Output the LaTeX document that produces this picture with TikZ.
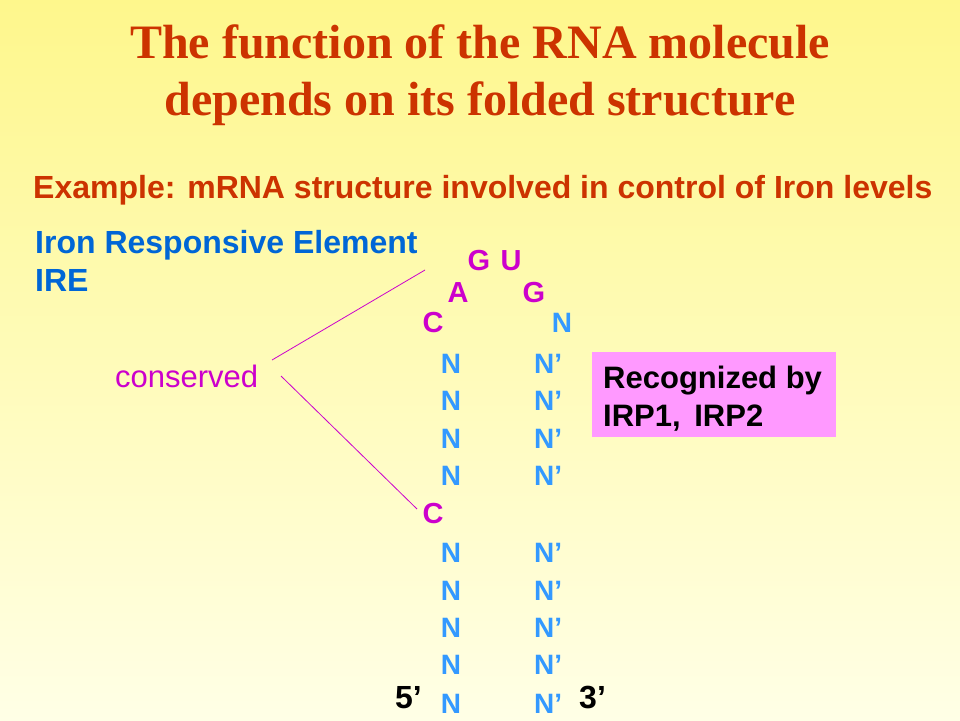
\documentclass[tikz,border=0pt]{standalone}
\usepackage{fontspec}
\setmainfont{Liberation Sans}
\newfontfamily\titlefont{Liberation Serif}
\definecolor{titlered}{RGB}{204,51,0}
\definecolor{ireblue}{RGB}{0,102,214}
\definecolor{nblue}{RGB}{51,153,255}
\definecolor{mag}{RGB}{204,0,204}
\definecolor{boxpink}{RGB}{255,153,255}
\definecolor{bgtop}{RGB}{254,247,140}
\definecolor{bgbot}{RGB}{255,255,230}
\begin{document}
\begin{tikzpicture}[x=1pt,y=-1pt,
  title/.style={font=\titlefont\bfseries\fontsize{48}{56}\selectfont,text=titlered,inner sep=0pt,anchor=base},
  subt/.style={font=\bfseries\fontsize{32}{38}\selectfont,text=titlered,inner sep=0pt,anchor=base west},
  iretxt/.style={font=\bfseries\fontsize{32}{38}\selectfont,text=ireblue,inner sep=0pt,anchor=base west},
  magl/.style={font=\bfseries\fontsize{29}{32}\selectfont,text=mag,inner sep=0pt,anchor=base},
  nl/.style={font=\bfseries\fontsize{28}{32}\selectfont,text=nblue,inner sep=0pt,anchor=base},
  npl/.style={font=\bfseries\fontsize{28}{32}\selectfont,text=nblue,inner sep=0pt,anchor=base west},
  endl/.style={font=\bfseries\fontsize{32}{36}\selectfont,text=black,inner sep=0pt,anchor=base west},
  rectxt/.style={font=\bfseries\fontsize{31}{37}\selectfont,text=black,inner sep=0pt,anchor=base west},
  consline/.style={draw=mag,line width=0.8pt}
]
\shade[top color=bgtop,bottom color=bgbot] (0,0) rectangle (960,720);
\useasboundingbox (0,0) rectangle (960,720);

\node[title] (t1) at (480,58) {The function of the RNA molecule};
\node[title] (t2) at (480,115) {depends on its folded structure};
\node[subt] (ex) at (33,198) {Example: mRNA structure involved in control of Iron levels};
\node[iretxt] (ire1) at (35,253) {Iron Responsive Element};
\node[iretxt] (ire2) at (35,291) {IRE};
\node[font=\fontsize{31}{36}\selectfont,text=mag,inner sep=0pt,anchor=base west] (cons) at (115,387) {conserved};

% loop
\node[magl] (g1) at (479,270) {G};
\node[magl] (u1) at (511,270) {U};
\node[magl] (a1) at (458,302) {A};
\node[magl] (g2) at (534,302) {G};
\node[magl] (c1) at (433,332) {C};
\node[nl] (n0) at (562,332) {N};
\node[magl] (c2) at (433,523) {C};
% stem
\foreach \i/\y in {1/373,2/410,3/448,4/485,5/562,6/600,7/637,8/674,9/713}{
  \node[nl] (l\i) at (451,\y) {N};
  \node[npl] (r\i) at (534,\y) {N’};
}
\node[endl] (five) at (395,708) {5’};
\node[endl] (three) at (579,708) {3’};

% box
\node[draw=none,fill=boxpink,minimum width=244pt,minimum height=85pt,inner sep=0pt,anchor=north west] (box) at (592,352) {};
\node[rectxt] (rec1) at (603,388) {Recognized by};
\node[rectxt] (rec2) at (603,426) {IRP1,\ \hspace{5pt}IRP2};

% conserved lines
\coordinate (s1) at (272,360);
\coordinate (e1) at (425,270);
\coordinate (s2) at (281,376);
\coordinate (e2) at (417,509);
\draw[consline] (s1) -- (e1);
\draw[consline] (s2) -- (e2);
\end{tikzpicture}
\end{document}
